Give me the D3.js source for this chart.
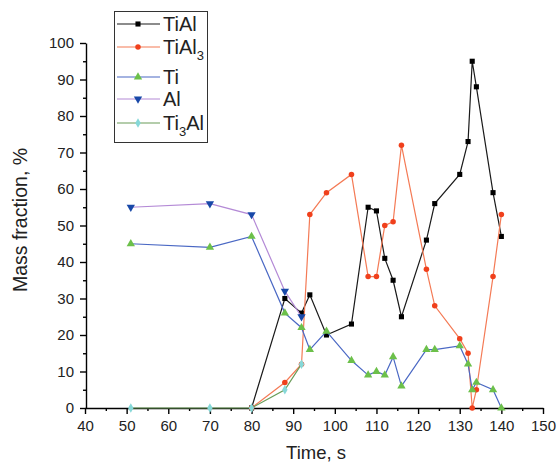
<!DOCTYPE html>
<html>
<head>
<meta charset="utf-8">
<script src="https://cdn.jsdelivr.net/npm/d3@7"></script>
<style>
  body { margin: 0; background: #fff; }
  text { font-family: Arial, "Liberation Sans", sans-serif; }
</style>
</head>
<body>
<div id="chart-area"></div>
<script>
// values
const tialX = [80, 88, 92, 94, 98, 104, 108, 110, 112, 114, 116, 122, 124, 130, 132, 133, 134, 138, 140];
const tialY = [0, 30, 26, 31, 20, 23, 55, 54, 41, 35, 25, 46, 56, 64, 73, 95, 88, 59, 47];

const tial3X = [80, 88, 92, 94, 98, 104, 108, 110, 112, 114, 116, 122, 124, 130, 132, 133, 134, 138, 140];
const tial3Y = [0, 7, 12, 53, 59, 64, 36, 36, 50, 51, 72, 38, 28, 19, 15, 0, 5, 36, 53];

const tiX = [51, 70, 80, 88, 92, 94, 98, 104, 108, 110, 112, 114, 116, 122, 124, 130, 132, 133, 134, 138, 140];
const tiY = [45, 44, 47, 26, 22, 16, 21, 13, 9, 10, 9, 14, 6, 16, 16, 17, 12, 5, 7, 5, 0];

const alX = [51, 70, 80, 88, 92];
const alY = [55, 56, 53, 32, 25];

const ti3alX = [51, 70, 80, 88, 92];
const ti3alY = [0, 0, 0, 5, 12];

const xTicks = [40, 50, 60, 70, 80, 90, 100, 110, 120, 130, 140, 150];
const yTicks = [0, 10, 20, 30, 40, 50, 60, 70, 80, 90, 100];

const series = [
  {name: "TiAl", sub: null, xs: tialX, ys: tialY, line: "#1a1a1a", mark: "#000000", sym: d3.symbolSquare, size: 26},
  {name: "TiAl", sub: "3", xs: tial3X, ys: tial3Y, line: "#f47a55", mark: "#f0401c", sym: d3.symbolCircle, size: 24},
  {name: "Ti", sub: null, xs: tiX, ys: tiY, line: "#4a68c4", mark: "#6cc04a", sym: d3.symbolTriangle, size: 30},
  {name: "Al", sub: null, xs: alX, ys: alY, line: "#b48ad6", mark: "#1848a8", sym: d3.symbolTriangle, size: 30, down: true},
  {name: "Ti", sub: "3", after: "Al", xs: ti3alX, ys: ti3alY, line: "#6a9c58", mark: "#86d8d8", sym: d3.symbolDiamond, size: 26}
];

const w = 558;
const h = 465;

const svg = d3.select("#chart-area")
  .append("svg")
  .attr("width", w)
  .attr("height", h);

const x = d3.scaleLinear().domain([40, 150]).range([85, 543]);
const y = d3.scaleLinear().domain([0, 100]).range([408, 43]);

// minor ticks
svg.append("g")
  .attr("transform", "translate(0,408)")
  .call(d3.axisBottom(x).tickValues(d3.range(45, 150, 10)).tickSize(3).tickFormat(""))
  .call(g => g.select(".domain").remove());
svg.append("g")
  .attr("transform", "translate(86,0)")
  .call(d3.axisLeft(y).tickValues(d3.range(5, 100, 10)).tickSize(3).tickFormat(""))
  .call(g => g.select(".domain").remove());

const xAxis = svg.append("g")
  .attr("transform", "translate(0,408)")
  .call(d3.axisBottom(x).tickValues(xTicks).tickSize(6).tickSizeOuter(0).tickPadding(6));
xAxis.selectAll("text").attr("font-size", "15px").attr("fill", "#222");

const yAxis = svg.append("g")
  .attr("transform", "translate(86,0)")
  .call(d3.axisLeft(y).tickValues(yTicks).tickSize(6).tickSizeOuter(0).tickPadding(6));
yAxis.selectAll("text").attr("font-size", "15px").attr("fill", "#222");

svg.selectAll(".domain, .tick line").attr("stroke", "#000").attr("stroke-width", 1.4);

svg.append("text")
  .attr("x", 316)
  .attr("y", 459)
  .attr("text-anchor", "middle")
  .attr("font-size", "18.5px")
  .attr("fill", "#222")
  .text("Time, s");

svg.append("text")
  .attr("transform", "translate(27,220) rotate(-90)")
  .attr("text-anchor", "middle")
  .attr("font-size", "19.5px")
  .attr("fill", "#222")
  .text("Mass fraction, %");

const line = d3.line().x(d => x(d[0])).y(d => y(d[1]));

series.forEach(s => {
  const pts = s.xs.map((v, i) => [v, s.ys[i]]);
  svg.append("path")
    .datum(pts)
    .attr("fill", "none")
    .attr("stroke", s.line)
    .attr("stroke-width", 1.2)
    .attr("d", line);
  svg.selectAll(null)
    .data(pts)
    .enter().append("path")
    .attr("transform", d => "translate(" + x(d[0]) + "," + y(d[1]) + ")" + (s.down ? " rotate(180)" : ""))
    .attr("d", d3.symbol().type(s.sym).size(s.size))
    .attr("fill", s.mark);
});

// legend
const legend = svg.append("g");
legend.append("rect")
  .attr("x", 114.5)
  .attr("y", 11.5)
  .attr("width", 93)
  .attr("height", 131)
  .attr("fill", "#fff")
  .attr("stroke", "#333")
  .attr("stroke-width", 1);

const rowY = [24, 47, 77, 99, 123];
series.forEach((s, i) => {
  const g = legend.append("g").attr("transform", "translate(0," + rowY[i] + ")");
  g.append("line")
    .attr("x1", 117).attr("x2", 160)
    .attr("stroke", s.line).attr("stroke-width", 1.2);
  g.append("path")
    .attr("transform", "translate(138,0)" + (s.down ? " rotate(180)" : ""))
    .attr("d", d3.symbol().type(s.sym).size(s.size))
    .attr("fill", s.mark);
  const t = g.append("text")
    .attr("x", 163)
    .attr("y", 7)
    .attr("font-size", "20px")
    .attr("fill", "#222");
  t.append("tspan").text(s.name);
  if (s.sub) {
    t.append("tspan").attr("dy", 6).attr("font-size", "13px").text(s.sub);
    if (s.after) t.append("tspan").attr("dy", -6).attr("font-size", "20px").text(s.after);
  }
});
</script>
</body>
</html>
